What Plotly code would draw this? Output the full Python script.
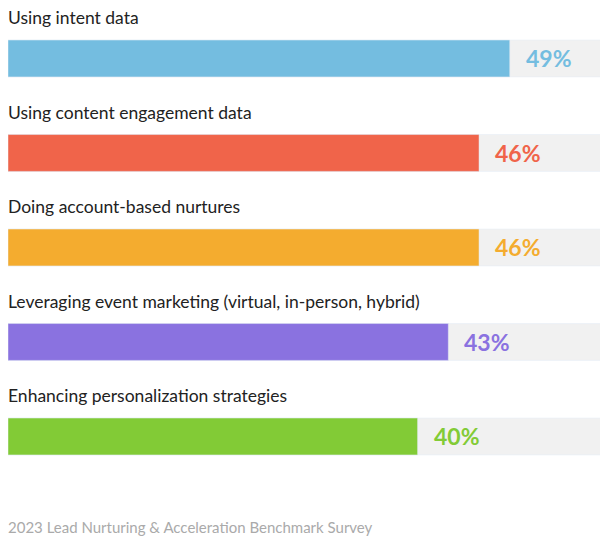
import plotly.graph_objects as go

categories = ["Using intent data", "Using content engagement data", "Doing account-based nurtures",
              "Leveraging event marketing (virtual, in-person, hybrid)", "Enhancing personalization strategies"]
values = [49, 46, 46, 43, 40]
colors = ["#74BDE0", "#F0644A", "#F4AC2F", "#8A72E0", "#82CB36"]
W, H = 608, 533
xmax = W / 10.24

idx = list(range(len(categories)))
fig = go.Figure()
fig.add_trace(go.Bar(y=idx, x=[xmax]*len(idx), orientation="h", marker_color="#F1F1F1",
                     width=0.39, hoverinfo="skip"))
fig.add_trace(go.Bar(y=idx, x=values, orientation="h", marker_color=colors, width=0.39))
for i, (c, v, col) in enumerate(zip(categories, values, colors)):
    fig.add_annotation(x=0, y=i-0.43, text=c, showarrow=False, xanchor="left", yanchor="middle",
                       xshift=-2, font=dict(size=17.5, color="#222222", family="Lato"))
    fig.add_annotation(x=v, y=i, text=f"<b>{v}%</b>", showarrow=False, xanchor="left", xshift=14,
                       yanchor="middle", font=dict(size=23, color=col, family="Lato", weight=900))
fig.add_annotation(x=0, y=(H-519)/H, xref="paper", yref="paper", yanchor="middle", xanchor="left",
                   xshift=-2, text="2023 Lead Nurturing &amp; Acceleration Benchmark Survey", showarrow=False,
                   font=dict(size=15, color="#AAAAAA", family="Lato"))
fig.update_layout(width=W, height=H, margin=dict(l=0, r=0, t=0, b=0), barmode="overlay",
                  plot_bgcolor="white", paper_bgcolor="white", showlegend=False,
                  xaxis=dict(range=[0, xmax], visible=False, fixedrange=True),
                  yaxis=dict(range=[5.106, -0.534], visible=False, fixedrange=True))
fig.write_html("out.html", config={"displayModeBar": False})
